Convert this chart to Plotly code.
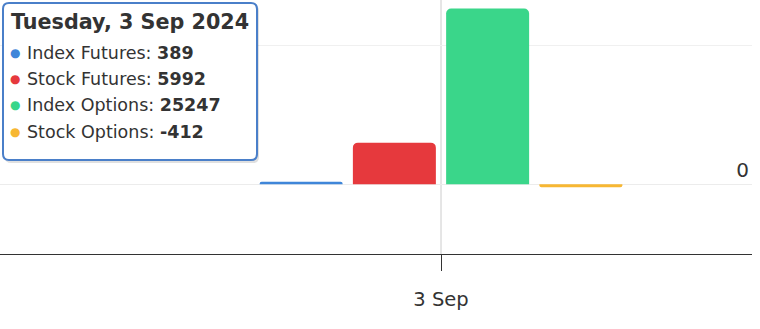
import plotly.graph_objects as go

# ---- data ----
categories = ["3 Sep"]
title_date = "Tuesday, 3 Sep 2024"
series_names = ["Index Futures", "Stock Futures", "Index Options", "Stock Options"]
index_futures = [389]
stock_futures = [5992]
index_options = [25247]
stock_options = [-412]
series_values = [index_futures, stock_futures, index_options, stock_options]
series_colors = ["#3f86d9", "#e6393d", "#3ad68a", "#f7b733"]
ytick_vals = [0, 20000]
ytick_text = ["0", ""]

FONT = "DejaVu Sans"
W, H = 760, 329
PL, PR, PT, PB = 0, 8, 0, 75
PW, PH = W - PL - PR, H - PT - PB

fig = go.Figure()
for name, vals, col in zip(series_names, series_values, series_colors):
    fig.add_trace(go.Bar(x=categories, y=vals, name=name, marker=dict(color=col, line=dict(width=0))))

# x range so that the category sits at pixel ~441 of 752, group ~373 px wide
U = 400.0
x_left = -441.0 / U
x_right = (PW - 441.0) / U

fig.update_layout(
    width=W, height=H,
    margin=dict(l=PL, r=PR, t=PT, b=PB),
    paper_bgcolor="white", plot_bgcolor="white",
    barmode="group", bargap=1 - 373.0 / U, bargroupgap=0.11,
    barcornerradius=5,
    showlegend=False,
    hovermode=False,
    font=dict(family=FONT, color="#333333"),
    xaxis=dict(
        type="category", range=[x_left, x_right],
        showline=True, linecolor="#333333", linewidth=1.3,
        ticks="outside", ticklen=16, tickcolor="#333333", tickwidth=1.3,
        ticklabelstandoff=11,
        tickfont=dict(size=19.5, color="#333333", family=FONT),
        showgrid=False, zeroline=False,
    ),
    yaxis=dict(
        side="right", range=[-10000, 26475],
        tickvals=ytick_vals, ticktext=ytick_text,
        ticklabelposition="inside top",
        tickfont=dict(size=20, color="#333333", family=FONT),
        showgrid=True, gridcolor="#f0f0f0", gridwidth=1,
        zeroline=True, zerolinecolor="#ececec", zerolinewidth=1,
        showline=False, ticks="",
    ),
)

# crosshair line at the category
fig.add_shape(type="line", xref="x", yref="paper",
              x0=categories.index("3 Sep"), x1=categories.index("3 Sep"), y0=0, y1=1,
              line=dict(color="#cccccc", width=1), layer="below")

def px(xp):
    return (xp - PL) / PW

def py(yp):
    return 1 - (yp - PT) / PH

def rrect(x0, y0, x1, y1, r):
    return (
        f"M {px(x0 + r)},{py(y0)} L {px(x1 - r)},{py(y0)} "
        f"Q {px(x1)},{py(y0)} {px(x1)},{py(y0 + r)} "
        f"L {px(x1)},{py(y1 - r)} Q {px(x1)},{py(y1)} {px(x1 - r)},{py(y1)} "
        f"L {px(x0 + r)},{py(y1)} Q {px(x0)},{py(y1)} {px(x0)},{py(y1 - r)} "
        f"L {px(x0)},{py(y0 + r)} Q {px(x0)},{py(y0)} {px(x0 + r)},{py(y0)} Z"
    )

# tooltip shadow + box
fig.add_shape(type="path", xref="paper", yref="paper", path=rrect(5, 5, 259, 163, 6),
              fillcolor="rgba(0,0,0,0.12)", line=dict(width=0), layer="above")
fig.add_shape(type="path", xref="paper", yref="paper", path=rrect(3, 3, 257, 160, 6),
              fillcolor="white", line=dict(color="#4a7fc9", width=2), layer="above")

fig.add_annotation(xref="paper", yref="paper", x=px(9), y=py(22), xanchor="left", yanchor="middle",
                   text=f"<b>{title_date}</b>", showarrow=False,
                   font=dict(size=20.7, color="#333333", family=FONT))
line_y = [53, 79, 105, 132]
for name, vals, col, yy in zip(series_names, series_values, series_colors, line_y):
    fig.add_annotation(xref="paper", yref="paper", x=px(8), y=py(yy), xanchor="left", yanchor="middle",
                       text=f"<span style='color:{col}'>●</span>", showarrow=False,
                       font=dict(size=12, family=FONT))
    fig.add_annotation(xref="paper", yref="paper", x=px(25), y=py(yy), xanchor="left", yanchor="middle",
                       text=f"{name}: <b>{vals[0]}</b>", showarrow=False,
                       font=dict(size=17.5, color="#333333", family=FONT))

fig.write_html("out.html")
